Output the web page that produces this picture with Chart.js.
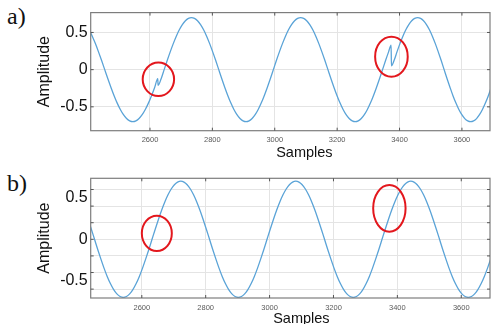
<!DOCTYPE html>
<html><head><meta charset="utf-8">
<script src="https://cdn.jsdelivr.net/npm/chart.js@4.4.1/dist/chart.umd.min.js"></script>
<style>
body{margin:0;background:#fff;width:491px;height:324px;overflow:hidden;position:relative;font-family:'Liberation Sans',Arial,sans-serif}
canvas{position:absolute;left:0}
#c1{top:0}
#c2{top:162px}
.lbl{position:absolute;left:7px;font-family:'Liberation Serif','DejaVu Serif',serif;font-size:24px;line-height:24px;color:#111}
</style></head><body>
<div class="lbl" style="top:4px">a)</div>
<div class="lbl" style="top:171px">b)</div>
<canvas id="c1" width="491" height="162"></canvas>
<canvas id="c2" width="491" height="162"></canvas>
<script>
// ---- data ----
const xTicks = [2600, 2800, 3000, 3200, 3400, 3600];
const yTicksA = [-0.5, 0, 0.5];
const yGridB = [-0.6, -0.4, -0.2, 0, 0.2, 0.4, 0.6];
const yLabelsB = [-0.5, 0, 0.5];

const samplesA = [
 2405,2415,2425,2435,2445,2455,2465,2475,2485,2495,2505,2515,2525,2535,2545,2555,2565,2575,2585,2595,2605,2615,2625,
 2626,
 2635.8,2645.5,2655.2,2664.9,2674.7,2684.4,2694.1,2703.8,2713.6,2723.3,
 2733.0,2742.7,2752.4,2762.2,2771.9,2781.6,2791.3,2801.1,2810.8,2820.5,
 2830.2,2839.9,2849.7,2859.4,2869.1,2878.8,2888.6,2898.3,2908.0,2917.7,
 2927.4,2937.2,2946.9,2956.6,2966.3,2976.1,2985.8,2995.5,3005.2,3014.9,
 3024.7,3034.4,3044.1,3053.8,3063.6,3073.3,3083.0,3092.7,3102.4,3112.2,
 3121.9,3131.6,3141.3,3151.1,3160.8,3170.5,3180.2,3189.9,3199.7,3209.4,
 3219.1,3228.8,3238.6,3248.3,3258.0,3267.7,3277.4,3287.2,3296.9,3306.6,
 3316.3,3326.1,3335.8,3345.5,3355.2,3364.9,
 3373,3374,
 3382.4,3391.9,3401.3,3410.8,3420.2,3429.7,3439.1,3448.6,3458.0,3467.4,
 3476.9,3486.3,3495.8,3505.2,3514.7,3524.1,3533.6,3543.0,3552.4,3561.9,
 3571.3,3580.8,3590.2,3599.7,3609.1,3618.6,3628.0,3637.4,3646.9,3656.3,
 3665.8,3675.2,3684.7,3694.1
];
const amplitudeA = [
 0.536,0.45,0.35,0.239,0.122,0,-0.122,-0.239,-0.35,-0.45,-0.536,-0.606,-0.658,-0.689,-0.7,-0.689,-0.658,-0.606,-0.536,-0.45,-0.35,-0.239,-0.122,
 -0.21,
 -0.122,0,0.122,0.239,0.35,0.45,0.536,0.606,0.658,0.689,
 0.7,0.689,0.658,0.606,0.536,0.45,0.35,0.239,0.122,0,
 -0.122,-0.239,-0.35,-0.45,-0.536,-0.606,-0.658,-0.689,-0.7,-0.689,
 -0.658,-0.606,-0.536,-0.45,-0.35,-0.239,-0.122,0,0.122,0.239,
 0.35,0.45,0.536,0.606,0.658,0.689,0.7,0.689,0.658,0.606,
 0.536,0.45,0.35,0.239,0.122,0,-0.122,-0.239,-0.35,-0.45,
 -0.536,-0.606,-0.658,-0.689,-0.7,-0.689,-0.658,-0.606,-0.536,-0.45,
 -0.35,-0.239,-0.122,0,0.122,0.239,
 0.33,0.05,
 0.122,0.239,0.35,0.45,0.536,0.606,0.658,0.689,0.7,0.689,
 0.658,0.606,0.536,0.45,0.35,0.239,0.122,0,-0.122,-0.239,
 -0.35,-0.45,-0.536,-0.606,-0.658,-0.689,-0.7,-0.689,-0.658,-0.606,
 -0.536,-0.45,-0.35,-0.239
];

const samplesB = [
 2432,2442,2452,2462,2472,2482,2492,2502,2512,2522,
 2532,2542,2552,2562,2572,2582,2592,2602,2612,2622,
 2632,2642,2652,2662,2672,2682,2692,2702,2712,2722,
 2732,2742,2752,2762,2772,2782,2792,2802,2812,2822,
 2832,2842,2852,2862,2872,2882,2892,2902,2912,2922,
 2932,2942,2952,2962,2972,2982,2992,3002,3012,3022,
 3032,3042,3052,3062,3072,3082,3092,3102,3112,3122,
 3132,3142,3152,3162,3172,3182,3192,3202,3212,3222,
 3232,3242,3252,3262,3272,3282,3292,3302,3312,3322,
 3332,3342,3352,3362,3372,3382,3392,3402,3412,3422,
 3432,3442,3452,3462,3472,3482,3492,3502,3512,3522,
 3532,3542,3552,3562,3572,3582,3592,3602,3612,3622,
 3632,3642,3652,3662,3672,3682,3692,3702
];
const amplitudeB = [
 0.239,0.122,0,-0.122,-0.239,-0.35,-0.45,-0.536,-0.606,-0.658,
 -0.689,-0.7,-0.689,-0.658,-0.606,-0.536,-0.45,-0.35,-0.239,-0.122,
 0,0.122,0.239,0.35,0.45,0.536,0.606,0.658,0.689,0.7,
 0.689,0.658,0.606,0.536,0.45,0.35,0.239,0.122,0,-0.122,
 -0.239,-0.35,-0.45,-0.536,-0.606,-0.658,-0.689,-0.7,-0.689,-0.658,
 -0.606,-0.536,-0.45,-0.35,-0.239,-0.122,0,0.122,0.239,0.35,
 0.45,0.536,0.606,0.658,0.689,0.7,0.689,0.658,0.606,0.536,
 0.45,0.35,0.239,0.122,0,-0.122,-0.239,-0.35,-0.45,-0.536,
 -0.606,-0.658,-0.689,-0.7,-0.689,-0.658,-0.606,-0.536,-0.45,-0.35,
 -0.239,-0.122,0,0.122,0.239,0.35,0.45,0.536,0.606,0.658,
 0.689,0.7,0.689,0.658,0.606,0.536,0.45,0.35,0.239,0.122,
 0,-0.122,-0.239,-0.35,-0.45,-0.536,-0.606,-0.658,-0.689,-0.7,
 -0.689,-0.658,-0.606,-0.536,-0.45,-0.35,-0.239,-0.122
];

// highlighted spots (sample, amplitude)
const circlesA = [[2627, -0.13], [3374, 0.175]];
const circlesB = [[2647, 0.072], [3375, 0.373]];

// ---- drawing ----
const deco = {
  id: 'deco',
  afterDatasetsDraw(chart, args, o) {
    const {ctx, chartArea: a, scales: {x, y}} = chart;
    ctx.save();
    ctx.strokeStyle = '#7d7d7d'; ctx.lineWidth = 1.2;
    ctx.strokeRect(a.left, a.top, a.right - a.left, a.bottom - a.top);
    ctx.lineWidth = 1; ctx.strokeStyle = '#555';
    ctx.beginPath();
    for (const v of xTicks) {
      const px = x.getPixelForValue(v);
      ctx.moveTo(px, a.bottom); ctx.lineTo(px, a.bottom - 3);
      ctx.moveTo(px, a.top); ctx.lineTo(px, a.top + 3);
    }
    for (const v of o.yGrid) {
      const py = y.getPixelForValue(v);
      ctx.moveTo(a.left, py); ctx.lineTo(a.left + 3, py);
      ctx.moveTo(a.right, py); ctx.lineTo(a.right - 3, py);
    }
    ctx.stroke();
    ctx.strokeStyle = '#e3171d'; ctx.lineWidth = 2;
    o.circles.forEach((c, i) => {
      const r = o.radii[i];
      ctx.beginPath();
      ctx.ellipse(x.getPixelForValue(c[0]), y.getPixelForValue(c[1]), r[0], r[1], 0, 0, Math.PI * 2);
      ctx.stroke();
    });
    ctx.fillStyle = '#111';
    ctx.font = '14.5px "Liberation Sans", Arial, sans-serif';
    ctx.textAlign = 'center'; ctx.textBaseline = 'alphabetic';
    ctx.fillText('Samples', (a.left + a.right) / 2 + o.titleDx, o.titleBaseline);
    ctx.restore();
  }
};

function makeChart(id, p) {
  return new Chart(document.getElementById(id), {
    type: 'line',
    data: {
      datasets: [{
        data: p.xs.map((s, i) => ({x: s, y: p.ys[i]})),
        borderColor: '#5aa3d7', borderWidth: 1.3, pointRadius: 0,
        cubicInterpolationMode: 'monotone', fill: false
      }]
    },
    options: {
      responsive: false, animation: false, devicePixelRatio: 1,
      layout: {autoPadding: false, padding: {top: p.padTop, right: 1, bottom: 0, left: 0}},
      plugins: {
        legend: {display: false}, tooltip: {enabled: false},
        deco: {circles: p.circles, radii: p.radii, yGrid: p.yGrid, titleDx: p.titleDx, titleBaseline: p.titleBaseline}
      },
      scales: {
        x: {
          type: 'linear', min: p.xMin, max: p.xMax,
          afterBuildTicks: s => { s.ticks = xTicks.map(v => ({value: v})); },
          afterFit: s => { s.height = p.xAxisH; },
          border: {display: false},
          grid: {color: '#e4e4e4', lineWidth: 1, drawTicks: false},
          ticks: {padding: 5, autoSkip: false, color: '#5a5a5a', font: {family: 'Liberation Sans', size: 7.5}, maxRotation: 0, callback: v => String(v)}
        },
        y: {
          min: p.yMin, max: p.yMax,
          afterBuildTicks: s => { s.ticks = p.yAll.map(v => ({value: v})); },
          afterFit: s => { s.width = 90.7; },
          border: {display: false},
          grid: {lineWidth: 1, drawTicks: false,
                 color: c => (c.tick && p.yGrid.includes(c.tick.value)) ? '#e4e4e4' : 'rgba(0,0,0,0)'},
          ticks: {padding: 3, autoSkip: false, color: '#111', font: {family: 'Liberation Sans', size: 16},
                  callback: v => p.yLabels.includes(v) ? String(v) : ''},
          title: {display: true, text: 'Amplitude', color: '#111', padding: {top: 35, bottom: 0},
                  font: {family: 'Liberation Sans', size: 16}}
        }
      }
    },
    plugins: [deco]
  });
}

makeChart('c1', {
  xs: samplesA, ys: amplitudeA, xMin: 2410, xMax: 3690, yMin: -0.821, yMax: 0.767,
  padTop: 10, xAxisH: 31.3, yAll: yTicksA, yGrid: yTicksA, yLabels: yTicksA,
  circles: circlesA, radii: [[15.7, 16.7], [16.3, 20]], titleDx: 14, titleBaseline: 156.5
});
makeChart('c2', {
  xs: samplesB, ys: amplitudeB, xMin: 2440, xMax: 3690, yMin: -0.707, yMax: 0.735,
  padTop: 16.3, xAxisH: 26, yAll: [-0.6, -0.5, -0.4, -0.2, 0, 0.2, 0.4, 0.5, 0.6], yGrid: yGridB, yLabels: yLabelsB,
  circles: circlesB, radii: [[15, 17.7], [16.2, 23.3]], titleDx: 11, titleBaseline: 161
});
</script>
</body></html>
